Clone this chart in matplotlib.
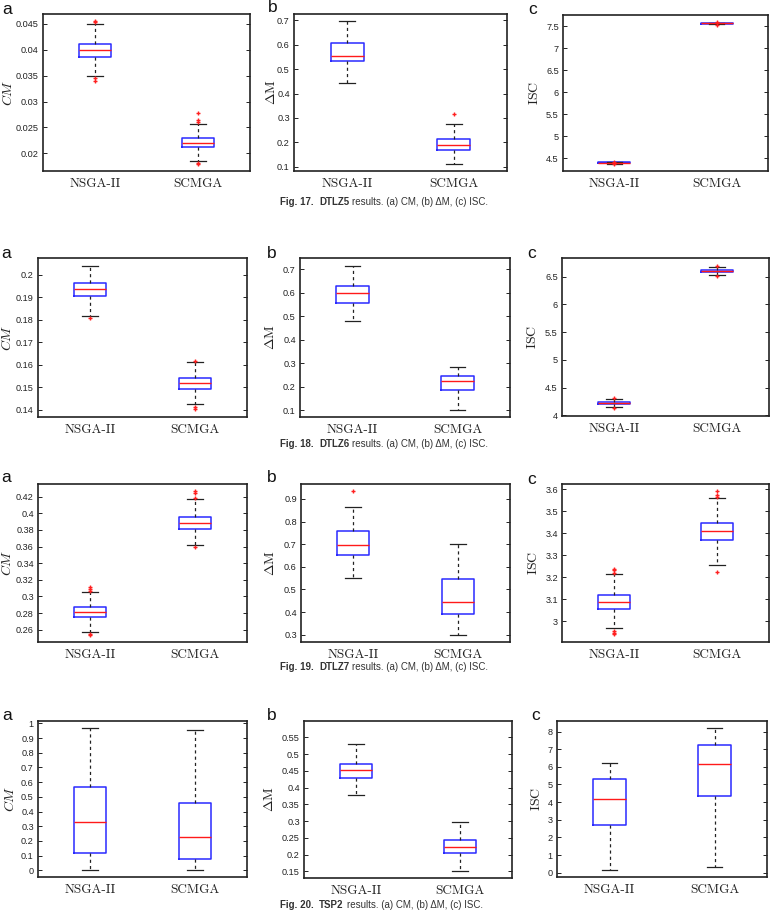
import matplotlib
matplotlib.use('Agg')
import matplotlib.pyplot as plt
from matplotlib.ticker import MultipleLocator, FuncFormatter

plt.rcParams['mathtext.fontset'] = 'cm'

# ---------------- data ----------------
categories = ['NSGA-II', 'SCMGA']

# box stats: [whislo, q1, median, q3, whishi] for NSGA-II, SCMGA
dtlz5_cm = [[0.0350, 0.03865, 0.0400, 0.04116, 0.0449], [0.0186, 0.02127, 0.0221, 0.0230, 0.0257]]
dtlz5_cm_fliers = [[0.0453, 0.0455, 0.0346, 0.0340], [0.0278, 0.0265, 0.0261, 0.0181, 0.0179]]
dtlz5_dm = [[0.4422, 0.5309, 0.5527, 0.6045, 0.6945], [0.1136, 0.1707, 0.1913, 0.2157, 0.2744]]
dtlz5_dm_fliers = [[], [0.318]]
dtlz5_isc = [[4.375, 4.385, 4.392, 4.400, 4.410], [7.545, 7.555, 7.565, 7.575, 7.585]]
dtlz5_isc_fliers = [[4.42, 4.37], [7.60, 7.54]]

dtlz6_cm = [[0.1817, 0.1905, 0.1934, 0.1963, 0.2040], [0.1427, 0.1492, 0.1518, 0.1540, 0.1613]]
dtlz6_cm_fliers = [[0.1806], [0.1616, 0.1412, 0.1402]]
dtlz6_dm = [[0.4810, 0.5564, 0.5976, 0.6275, 0.7128], [0.1028, 0.1882, 0.2265, 0.2464, 0.2848]]
dtlz6_dm_fliers = [[], []]
dtlz6_isc = [[4.15, 4.21, 4.222, 4.235, 4.30], [6.524, 6.59, 6.598, 6.62, 6.668]]
dtlz6_isc_fliers = [[4.31, 4.13], [6.69, 6.51]]

dtlz7_cm = [[0.2568, 0.2748, 0.2812, 0.2872, 0.3052], [0.3616, 0.3816, 0.3884, 0.3956, 0.4168]]
dtlz7_cm_fliers = [[0.3112, 0.3088, 0.3064, 0.2548, 0.2536], [0.4268, 0.4244, 0.4188, 0.3596]]
dtlz7_dm = [[0.5485, 0.6515, 0.6956, 0.7574, 0.8647], [0.300, 0.3912, 0.4426, 0.5441, 0.700]]
dtlz7_dm_fliers = [[0.935], []]
dtlz7_isc = [[2.9683, 3.0559, 3.0897, 3.1184, 3.2136], [3.2554, 3.3703, 3.4111, 3.4489, 3.5607]]
dtlz7_isc_fliers = [[3.2393, 3.2317, 3.2212, 2.956, 2.9486, 2.9426], [3.594, 3.574, 3.567, 3.2236]]

tsp2_cm = [[0.0, 0.1176, 0.3258, 0.5679, 0.9683], [0.0, 0.0769, 0.224, 0.4593, 0.957]]
tsp2_cm_fliers = [[], []]
tsp2_dm = [[0.3764, 0.4293, 0.4512, 0.4692, 0.5291], [0.151, 0.205, 0.222, 0.243, 0.2966]]
tsp2_dm_fliers = [[], []]
tsp2_isc = [[0.15, 2.73, 4.20, 5.31, 6.21], [0.32, 4.33, 6.16, 7.23, 8.23]]
tsp2_isc_fliers = [[], []]

ylabels = [r'$CM$', r'$\Delta\mathrm{M}$', r'$\mathrm{ISC}$']
fig_numbers = ['Fig. 17.', 'Fig. 18.', 'Fig. 19.', 'Fig. 20.']
problems = ['DTLZ5', 'DTLZ6', 'DTLZ7', 'TSP2']
caption_rest = 'results. (a) CM, (b) \u0394M, (c) ISC.'

# ---------------- layout (pixels) ----------------
W, H = 771, 917
fig = plt.figure(figsize=(W / 100, H / 100), dpi=100)

panels = [
    # (stats, fliers, ylim, ystep, rect(l,r,t,b), ylabel_x, letter_xy)
    (dtlz5_cm, dtlz5_cm_fliers, (0.0166, 0.0469), 0.005, (43, 250, 14, 171), 8, (2, 9)),
    (dtlz5_dm, dtlz5_dm_fliers, (0.0836, 0.7246), 0.1, (294, 507, 14, 171), 271, (268, 8)),
    (dtlz5_isc, dtlz5_isc_fliers, (4.205, 7.758), 0.5, (563, 768, 15, 171), 534, (528, 10)),
    (dtlz6_cm, dtlz6_cm_fliers, (0.1367, 0.2074), 0.01, (38, 247, 258, 417), 7, (1, 253)),
    (dtlz6_dm, dtlz6_dm_fliers, (0.0716, 0.7469), 0.1, (300, 510, 258, 417), 270, (267, 253)),
    (dtlz6_isc, dtlz6_isc_fliers, (3.99, 6.836), 0.5, (562, 769, 258, 416), 532, (527, 254)),
    (dtlz7_cm, dtlz7_cm_fliers, (0.2452, 0.4352), 0.02, (38, 247, 484, 642), 7, (1, 478)),
    (dtlz7_dm, dtlz7_dm_fliers, (0.2676, 0.966), 0.1, (301, 510, 484, 642), 270, (267, 478)),
    (dtlz7_isc, dtlz7_isc_fliers, (2.906, 3.624), 0.1, (562, 769, 484, 642), 533, (527, 479)),
    (tsp2_cm, tsp2_cm_fliers, (-0.045, 1.0158), 0.1, (38, 247, 721, 877), 10, (2, 715)),
    (tsp2_dm, tsp2_dm_fliers, (0.13, 0.5989), 0.05, (304, 512, 721, 878), 269, (267, 715)),
    (tsp2_isc, tsp2_isc_fliers, (-0.245, 8.6), 1.0, (557, 767, 721, 877), 536, (531, 715)),
]
letters = ['a', 'b', 'c']
caption_pos = [(280, 202), (280, 444), (280, 667), (280, 905)]

fmt = FuncFormatter(lambda v, p: '%g' % round(v, 6))
axes = []
for i, (st, fl, ylim, step, (l, r, t, b), ylx, (lx, ly)) in enumerate(panels):
    ax = fig.add_axes([l / W, 1 - b / H, (r - l) / W, (b - t) / H])
    axes.append(ax)
    stats = [dict(whislo=s[0], q1=s[1], med=s[2], q3=s[3], whishi=s[4], fliers=f, label=c)
             for s, f, c in zip(st, fl, categories)]
    ax.bxp(stats, positions=[1, 2], widths=0.31, capwidths=0.15, showfliers=True,
           boxprops=dict(color='#2a2aff', lw=1.1),
           medianprops=dict(color='#ff1a1a', lw=1.0),
           whiskerprops=dict(color='#222222', lw=0.9, ls=(0, (2.5, 2.5))),
           capprops=dict(color='#222222', lw=0.9),
           flierprops=dict(marker='+', markeredgecolor='#ff2020', markersize=3.5,
                           markeredgewidth=1.0, linestyle='none'))
    ax.set_xlim(0.5, 2.5)
    ax.set_ylim(*ylim)
    ax.yaxis.set_major_locator(MultipleLocator(step))
    ax.yaxis.set_major_formatter(fmt)
    ax.tick_params(axis='y', direction='in', right=True, length=3, width=0.7,
                   labelsize=6.6, colors='#222222', pad=3)
    ax.tick_params(axis='x', length=0, labelsize=9.5, pad=5, colors='#222222')
    for lab in ax.get_yticklabels():
        lab.set_fontfamily('Liberation Sans')
    for lab in ax.get_xticklabels():
        lab.set_fontfamily('cmr10')
    for sp in ax.spines.values():
        sp.set_linewidth(1.2)
        sp.set_color('#222222')
    fig.text(ylx / W, 1 - ((t + b) / 2) / H, ylabels[i % 3], rotation=90,
             ha='center', va='center', fontsize=10, color='#222222')
    fig.text(lx / W, 1 - ly / H, letters[i % 3], ha='left', va='center',
             fontsize=12.5, family='Liberation Sans', color='#111111')

# captions
for k in range(4):
    cx, cy = caption_pos[k]
    t0 = fig.text(cx / W, 1 - cy / H, fig_numbers[k], ha='left', va='center',
                  fontsize=7.0, fontweight='bold', family='Liberation Sans', color='#333333')
    t1 = axes[0].annotate(problems[k], xy=(1, 0), xycoords=t0, xytext=(4, 0),
                          textcoords='offset points', ha='left', va='bottom',
                          fontsize=7.0, fontweight='bold', family='Liberation Sans',
                          color='#333333', annotation_clip=False)
    axes[0].annotate(caption_rest, xy=(1, 0), xycoords=t1, xytext=(2, 0),
                     textcoords='offset points', ha='left', va='bottom',
                     fontsize=7.0, family='Liberation Sans', color='#333333',
                     annotation_clip=False)

fig.savefig('out.png', dpi=100)
